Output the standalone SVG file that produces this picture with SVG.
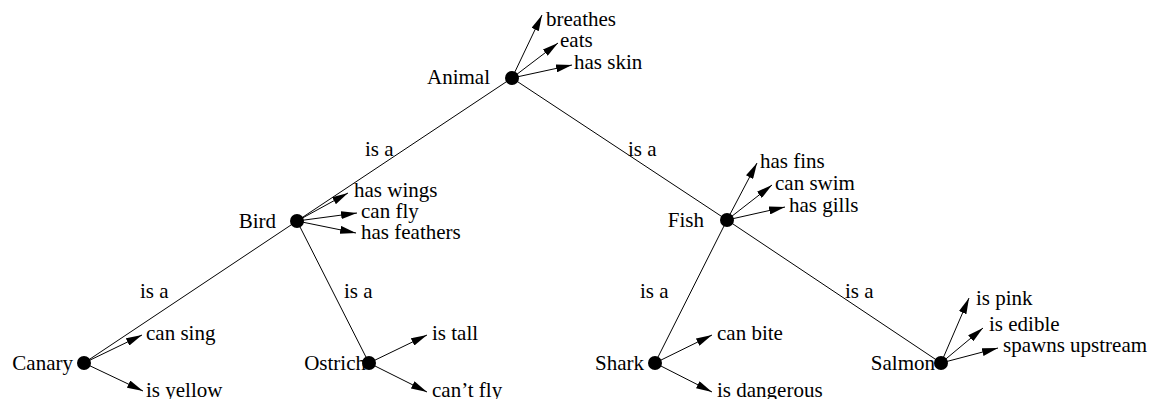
<svg xmlns="http://www.w3.org/2000/svg" width="1150" height="399" viewBox="0 0 1150 399">
<style>
text{font-family:"Liberation Serif","Times New Roman",serif;font-size:21px;fill:#000}
.lbl{text-anchor:end}
.e{stroke:#000;stroke-width:1;fill:none}
.p{stroke:#000;stroke-width:1;fill:none;marker-end:url(#ah)}
circle{fill:#000}
</style>
<defs>
<marker id="ah" markerUnits="userSpaceOnUse" markerWidth="16" markerHeight="8" refX="16" refY="4" orient="auto">
<path d="M0,0 L16,4 L0,8 z" fill="#000"/>
</marker>
</defs>
<rect width="1150" height="399" fill="#fff"/>
<g id="connectors">
<line class="e" x1="512" y1="78" x2="297" y2="221"/>
<line class="e" x1="512" y1="78" x2="727" y2="220"/>
<line class="e" x1="297" y1="221" x2="84" y2="363"/>
<line class="e" x1="297" y1="221" x2="369" y2="363"/>
<line class="e" x1="727" y1="220" x2="655" y2="363"/>
<line class="e" x1="727" y1="220" x2="941" y2="363"/>
<text x="365" y="156">is a</text>
<text x="628" y="156">is a</text>
<text x="140" y="298">is a</text>
<text x="344" y="298">is a</text>
<text x="640" y="298">is a</text>
<text x="845" y="298">is a</text>
</g>
<g id="animal">
<circle cx="512" cy="78" r="7"/>
<text class="lbl" x="490" y="84">Animal</text>
<line class="p" x1="512" y1="78" x2="542" y2="15"/>
<line class="p" x1="512" y1="78" x2="558" y2="43"/>
<line class="p" x1="512" y1="78" x2="572" y2="65"/>
<text x="546" y="26">breathes</text>
<text x="560" y="47">eats</text>
<text x="574" y="69">has skin</text>
</g>
<g id="bird">
<circle cx="297" cy="221" r="7"/>
<text class="lbl" x="276" y="228">Bird</text>
<line class="p" x1="297" y1="221" x2="348" y2="193"/>
<line class="p" x1="297" y1="221" x2="357" y2="213"/>
<line class="p" x1="297" y1="221" x2="356" y2="233"/>
<text x="354" y="197">has wings</text>
<text x="361" y="218">can fly</text>
<text x="361" y="239">has feathers</text>
</g>
<g id="fish">
<circle cx="727" cy="220" r="7"/>
<text class="lbl" x="704" y="227">Fish</text>
<line class="p" x1="727" y1="220" x2="757" y2="163"/>
<line class="p" x1="727" y1="220" x2="772" y2="185"/>
<line class="p" x1="727" y1="220" x2="785" y2="207"/>
<text x="760" y="168">has fins</text>
<text x="775" y="190">can swim</text>
<text x="789" y="212">has gills</text>
</g>
<g id="canary">
<circle cx="84" cy="363" r="7"/>
<text class="lbl" x="73" y="370">Canary</text>
<line class="p" x1="84" y1="363" x2="142" y2="335"/>
<line class="p" x1="84" y1="363" x2="143" y2="391"/>
<text x="146" y="340">can sing</text>
<text x="146" y="397">is yellow</text>
</g>
<g id="ostrich">
<circle cx="369" cy="363" r="7"/>
<text class="lbl" x="366" y="370">Ostrich</text>
<line class="p" x1="369" y1="363" x2="427" y2="335"/>
<line class="p" x1="369" y1="363" x2="427" y2="392"/>
<text x="432" y="340">is tall</text>
<text x="432" y="397">can’t fly</text>
</g>
<g id="shark">
<circle cx="655" cy="363" r="7"/>
<text class="lbl" x="644" y="370">Shark</text>
<line class="p" x1="655" y1="363" x2="712" y2="335"/>
<line class="p" x1="655" y1="363" x2="712" y2="392"/>
<text x="717" y="340">can bite</text>
<text x="717" y="397">is dangerous</text>
</g>
<g id="salmon">
<circle cx="941" cy="363" r="7"/>
<text class="lbl" x="935" y="370">Salmon</text>
<line class="p" x1="941" y1="363" x2="969" y2="298"/>
<line class="p" x1="941" y1="363" x2="983" y2="328"/>
<line class="p" x1="941" y1="363" x2="998" y2="348"/>
<text x="976" y="305">is pink</text>
<text x="989" y="331">is edible</text>
<text x="1003" y="352">spawns upstream</text>
</g>
</svg>
